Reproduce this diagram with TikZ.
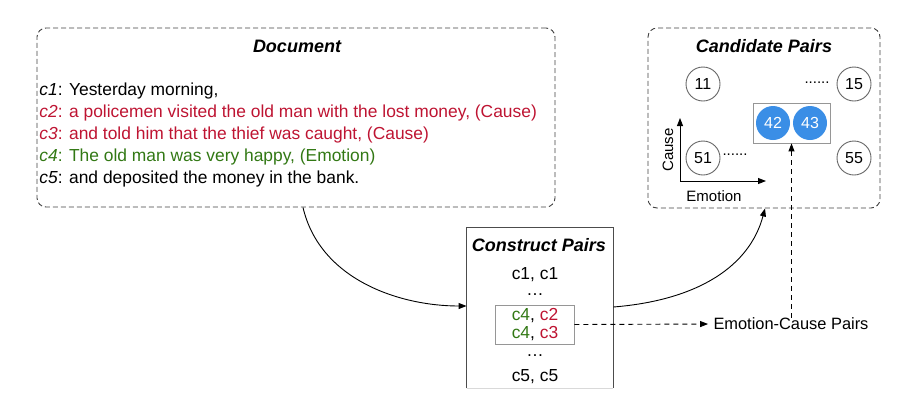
\documentclass[tikz,border=0pt]{standalone}
\usepackage{fontspec}
\setmainfont{Liberation Sans}
\usepackage{tikz}
\usetikzlibrary{arrows.meta,fit}

\definecolor{causered}{RGB}{190,20,50}
\definecolor{emogreen}{RGB}{50,120,20}
\definecolor{pairblue}{RGB}{58,142,230}
\definecolor{boxgray}{RGB}{150,150,150}

\tikzset{
	dashbox/.style={draw=black!75, dash pattern=on 5pt off 3pt, rounded corners=9pt, inner sep=0pt},
	title/.style={font=\fontsize{18}{21}\selectfont\bfseries\itshape},
	txt/.style={font=\fontsize{17.4}{20}\selectfont, inner sep=0pt, anchor=west},
	pair/.style={circle, draw=black!60, minimum size=34pt, inner sep=0pt, font=\fontsize{16}{18}\selectfont},
	pairsel/.style={pair, draw=none, fill=pairblue, text=white},
	cell/.style={font=\fontsize{17.4}{20}\selectfont, inner sep=0pt},
	small/.style={font=\fontsize{15}{17}\selectfont, inner sep=0pt},
	tip/.style={-{Triangle[length=8pt,width=6pt]}},
	dashline/.style={dash pattern=on 5pt off 4pt}
}

\begin{document}
\begin{tikzpicture}[x=1pt,y=-1pt,line width=0.9pt]
				\useasboundingbox (0,0) rectangle (919,408);
				% document
				\node[dashbox, minimum width=518pt, minimum height=179pt] (doc) at (296,117.5) {};
				\node[title] (doctitle) at (297,46) {Document};
				\node[txt] (l1) at (39,91) {\textit{c1}: Yesterday morning,};
				\node[txt, text=causered] (l2) at (39,113) {\textit{c2}: a policemen visited the old man with the lost money, (Cause)};
				\node[txt, text=causered] (l3) at (39,135) {\textit{c3}: and told him that the thief was caught, (Cause)};
				\node[txt, text=emogreen] (l4) at (39,157) {\textit{c4}: The old man was very happy, (Emotion)};
				\node[txt] (l5) at (39,179) {\textit{c5}: and deposited the money in the bank.};
				% candidate pairs
				\node[dashbox, minimum width=232pt, minimum height=180pt] (cand) at (764,118) {};
				\node[title] (candtitle) at (764,46) {Candidate Pairs};
				\node[pair] (p11) at (703,84) {11};
				\node[pair] (p15) at (854,84) {15};
				\node[pair] (p51) at (703,158) {51};
				\node[pair] (p55) at (854,158) {55};
				\node[pairsel] (p42) at (773,123) {42};
				\node[pairsel] (p43) at (810,123) {43};
				\node[draw=boxgray, fit=(p42)(p43), inner sep=2.5pt] (hl) {};
				\node[small] (dots1) at (817,83) {......};
				\node[small] (dots2) at (735,155) {......};
				\coordinate (org) at (680,181);
				\coordinate (ytop) at (680,118);
				\coordinate (xend) at (766,181);
				\draw[tip] (org) -- (ytop);
				\draw[tip] (org) -- (xend);
				\node[small, rotate=90] (cause) at (668,150) {Cause};
				\node[small] (emo) at (714,196) {Emotion};
				% construct pairs
				\node[minimum width=146pt, minimum height=160pt, inner sep=0pt] (cons) at (540,308) {};
				\draw[black!70] (cons.south west) -- (cons.north west) -- (cons.north east) -- (cons.south east);
				\draw[black!15] (cons.south west) -- (cons.south east);
				\node[title] (constitle) at (539,245) {Construct Pairs};
				\node[cell] (r1) at (535,275) {c1, c1};
				\node[cell] (r2) at (535,295) {\dots};
				\node[cell] (r3) at (535,316) {\textcolor{emogreen}{c4}, \textcolor{causered}{c2}};
				\node[cell] (r4) at (535,334) {\textcolor{emogreen}{c4}, \textcolor{causered}{c3}};
				\node[cell] (r5) at (535,356) {\dots};
				\node[cell] (r6) at (535,377) {c5, c5};
				\node[draw=boxgray, minimum width=79pt, minimum height=39pt, inner sep=0pt] (sel) at (534.5,324.5) {};
				\node[font=\fontsize{16.4}{19}\selectfont, inner sep=0pt] (ecp) at (791,324) {Emotion-Cause Pairs};
				% connectors
				\draw[tip] ([xshift=7pt]doc.south) .. controls (320,280) and (400,306) .. ([yshift=2pt]cons.west);
				\draw[tip] ([yshift=1pt]cons.east) .. controls (700,300) and (750,265) .. ([xshift=1pt]cand.south);
				\draw[tip, dashline, shorten >=5pt] (sel.east) -- (ecp.west);
				\draw[tip, dashline] (hl.south |- ecp.north) -- (hl.south);
			\end{tikzpicture}
\end{document}
